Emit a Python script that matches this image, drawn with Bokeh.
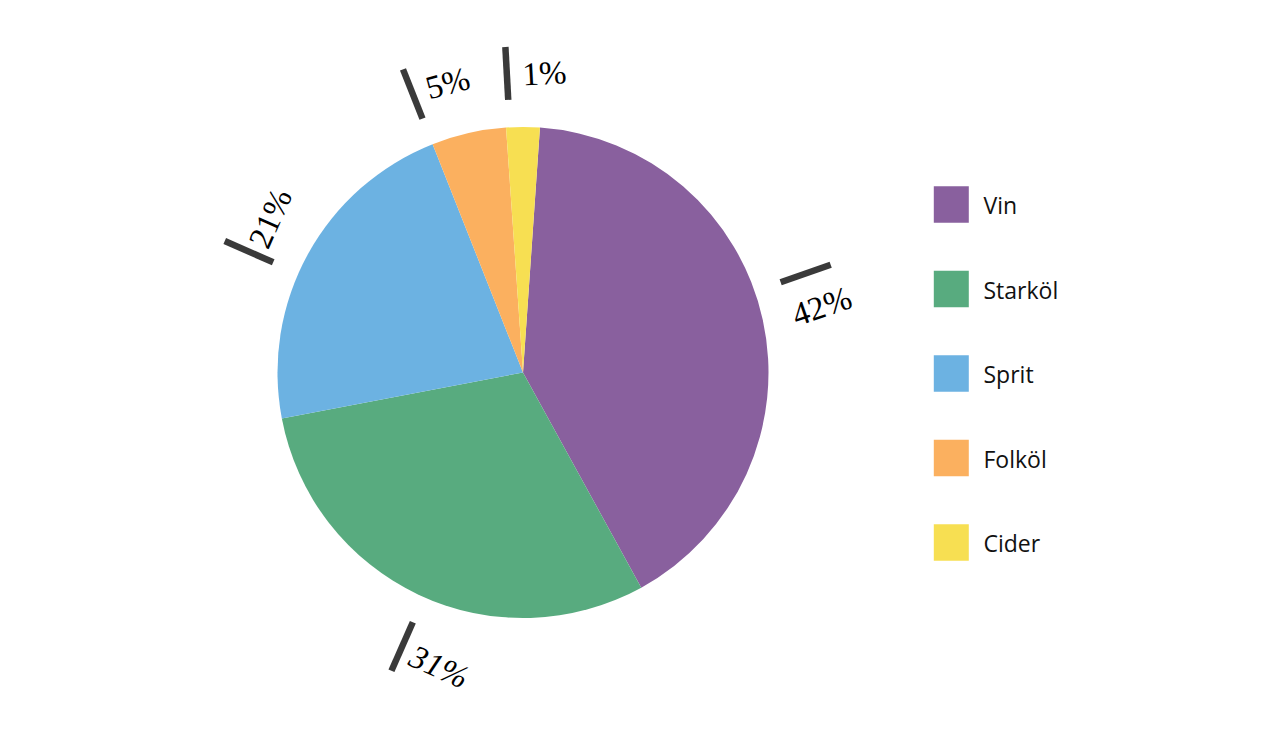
import math
from bokeh.plotting import figure
from bokeh.models import ColumnDataSource, Range1d
from bokeh.core.properties import value
from bokeh.embed import file_html
from bokeh.resources import INLINE

# ---- data ----
categories = ["Vin", "Starköl", "Sprit", "Folköl", "Cider"]
shares = [40.9, 30.0, 22.0, 4.9, 2.2]
label_texts = ["42%", "31%", "21%", "5%", "1%"]
colors = ["#89609E", "#58AB7F", "#6CB2E2", "#FBB05F", "#F7DF52"]

# ---- layout (annotation placement, degrees clockwise from 12 o'clock) ----
bar_angle = [70.7, 203.8, 293.8, 338.4, 356.9]
text_angle = [77.5, 195.9, 301.4, 345.4, 4.1]
text_radius = [306, 306, 296, 299, 300]
text_rotation = [19, -24, 66, 15, 3]
text_style = ["normal", "italic", "normal", "normal", "normal"]

W, H = 1265, 726
cx, cy, R = 522.5, 742 - 372, 245.5

total = sum(shares)
offset = shares[-1] / 2 / total * 360.0
phi_start, phi_end = [], []
acc = 0.0
for s in shares:
    phi_start.append(offset + acc / total * 360.0)
    acc += s
    phi_end.append(offset + acc / total * 360.0)

wedges = ColumnDataSource(dict(
    start=[math.radians(90 - e) for e in phi_end],
    end=[math.radians(90 - s) for s in phi_start],
    color=colors,
))

p = figure(width=W, height=H, x_range=Range1d(0, W), y_range=Range1d(742 - H, 742),
           output_backend="svg", toolbar_location=None,
           x_axis_location=None, y_axis_location=None, min_border=0,
           outline_line_color=None, background_fill_color="white",
           border_fill_color="white")
p.grid.visible = False

p.wedge(x=cx, y=cy, radius=R, start_angle="start", end_angle="end",
        direction="anticlock", fill_color="color", line_color=None, source=wedges)

# label bars (radial)
r1, r2 = 273, 326
bars = ColumnDataSource(dict(
    x0=[cx + r1 * math.sin(math.radians(a)) for a in bar_angle],
    y0=[cy + r1 * math.cos(math.radians(a)) for a in bar_angle],
    x1=[cx + r2 * math.sin(math.radians(a)) for a in bar_angle],
    y1=[cy + r2 * math.cos(math.radians(a)) for a in bar_angle],
))
p.segment(x0="x0", y0="y0", x1="x1", y1="y1", line_width=6.5,
          line_color="#3a3a3a", line_cap="butt", source=bars)

for i, t in enumerate(label_texts):
    a = math.radians(text_angle[i])
    p.text(x=[cx + text_radius[i] * math.sin(a)], y=[cy + text_radius[i] * math.cos(a)],
           text=[t], angle=math.radians(text_rotation[i]),
           text_align="center", text_baseline="middle",
           text_font=value("Liberation Serif"), text_font_size="33px",
           text_font_style=text_style[i], text_color="#000000")

# legend
leg_y = [742 - (204 + i * 84.5) for i in range(len(categories))]
p.rect(x=950.8, y=leg_y, width=35, height=36.5, fill_color=colors, line_color=None)
p.text(x=983, y=[y - 0.5 for y in leg_y], text=categories,
       text_align="left", text_baseline="alphabetic",
       text_font=value("Open Sans"), text_font_size="23px", text_color="#111111")

open("out.html", "w").write(file_html(p, INLINE))
